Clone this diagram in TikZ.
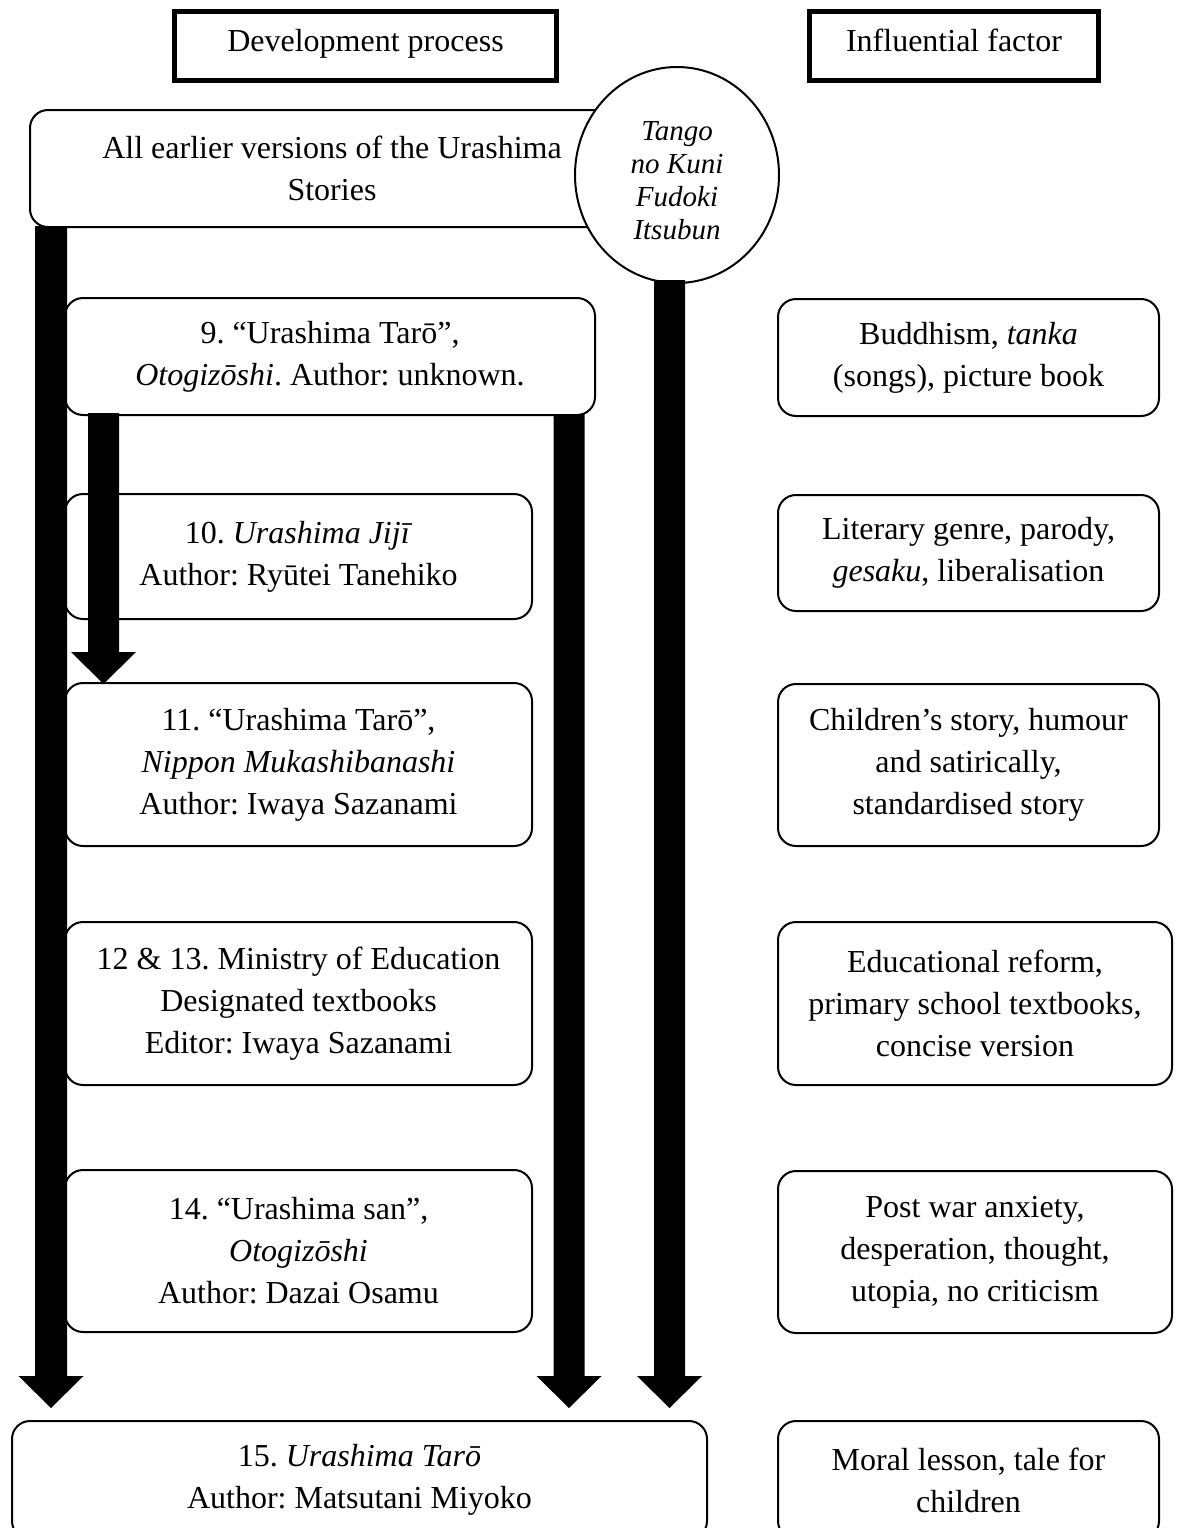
\documentclass[tikz,border=0pt]{standalone}
\usepackage{fontspec}
\setmainfont{Liberation Serif}
\frenchspacing
\usetikzlibrary{calc,shapes.geometric}
\newcommand\blockarrow[3]{% #1 start, #2 tip, #3 half shaft width
  \fill let \p1=(#1), \p2=(#2) in
    (\x1-#3,\y1) -- (\x1+#3,\y1) -- (\x1+#3,\y2+32pt) -- (\x1+32.5pt,\y2+32pt)
    -- (\x2,\y2) -- (\x1-32.5pt,\y2+32pt) -- (\x1-#3,\y2+32pt) -- cycle;}
\tikzset{
  box/.style={draw, line width=2pt, rounded corners=18pt, fill=white, align=center,
    inner sep=0pt, font=\fontsize{32}{42}\selectfont},
  headbox/.style={draw, line width=5pt, fill=white, align=center, inner sep=0pt,
    text height=22pt, text depth=10pt, font=\fontsize{32}{42}\selectfont},
  oval/.style={draw, ellipse, line width=2pt, fill=white, inner sep=0pt},
  ovaltext/.style={align=center, inner sep=0pt, font=\fontsize{29}{33}\selectfont\itshape},
}
\begin{document}
\frenchspacing
\begin{tikzpicture}[x=1pt,y=-1pt]
\useasboundingbox (0,0) rectangle (1178,1528);
% headers
\node[headbox, minimum width=382pt, minimum height=69pt] (devh) at (365.5,46) {Development process};
\node[headbox, minimum width=289pt, minimum height=69pt] (inflh) at (954,46) {Influential factor};
% left column
\node[box, minimum width=604pt, minimum height=117pt] (earlier) at (332,168.5)
  {All earlier versions of the Urashima\\Stories};
\node[oval, minimum width=204pt, minimum height=216pt] (circ) at (677,175) {};
\node[ovaltext] (circtext) at (677,181) {Tango\\no Kuni\\Fudoki\\Itsubun};
\node[box, minimum width=530pt, minimum height=117pt] (b9) at (330,356.5)
  {9. “Urashima Tarō”,\\\textit{Otogizōshi}. Author: unknown.};
\node[box, minimum width=467pt, minimum height=125pt] (b10) at (298.5,556.5)
  {10. \textit{Urashima Jijī}\\Author: Ryūtei Tanehiko};
\node[box, minimum width=467pt, minimum height=163pt] (b11) at (298.5,764.5)
  {11. “Urashima Tarō”,\\\textit{Nippon Mukashibanashi}\\Author: Iwaya Sazanami};
\node[box, minimum width=467pt, minimum height=163pt] (b12) at (298.5,1003.5)
  {12 \& 13. Ministry of Education\\Designated textbooks\\Editor: Iwaya Sazanami};
\node[box, minimum width=467pt, minimum height=162pt] (b14) at (298.5,1251)
  {14. “Urashima san”,\\\textit{Otogizōshi}\\Author: Dazai Osamu};
\node[box, minimum width=695pt, minimum height=118pt] (b15) at (359.5,1480)
  {15. \textit{Urashima Tarō}\\Author: Matsutani Miyoko};
% right column
\node[box, minimum width=381pt, minimum height=117pt] (r1) at (968.5,357.5)
  {Buddhism, \textit{tanka}\\(songs), picture book};
\node[box, minimum width=381pt, minimum height=116pt] (r2) at (968.5,553)
  {Literary genre, parody,\\\textit{gesaku}, liberalisation};
\node[box, minimum width=381pt, minimum height=162pt] (r3) at (968.5,765)
  {Children’s story, humour\\and satirically,\\standardised story};
\node[box, minimum width=394pt, minimum height=163pt] (r4) at (975,1003.5)
  {Educational reform,\\primary school textbooks,\\concise version};
\node[box, minimum width=394pt, minimum height=162pt] (r5) at (975,1252)
  {Post war anxiety,\\desperation, thought,\\utopia, no criticism};
\node[box, minimum width=381pt, minimum height=118pt] (r6) at (968.5,1480)
  {Moral lesson, tale for\\children};
% arrow columns
\coordinate (a1x) at (51,0);
\coordinate (a2x) at (103.5,0);
\coordinate (a3x) at (569,0);
\coordinate (a4x) at (669.5,0);
\coordinate (a1s) at ($(a1x |- earlier.south)+(0,-2)$);
\coordinate (a1t) at ($(a1x |- b15.north)+(0,-12)$);
\coordinate (a2s) at ($(a2x |- b9.south)+(0,-3)$);
\coordinate (a2t) at ($(a2x |- b11.north)+(0,2)$);
\coordinate (a3s) at ($(a3x |- b9.south)+(0,-2)$);
\coordinate (a3t) at ($(a3x |- b15.north)+(0,-12)$);
\coordinate (a4s) at ($(a4x |- circ.south)+(0,-4)$);
\coordinate (a4t) at ($(a4x |- b15.north)+(0,-12)$);
\blockarrow{a1s}{a1t}{16pt}
\blockarrow{a2s}{a2t}{15.5pt}
\blockarrow{a3s}{a3t}{15.5pt}
\blockarrow{a4s}{a4t}{15.5pt}
\end{tikzpicture}
\end{document}
